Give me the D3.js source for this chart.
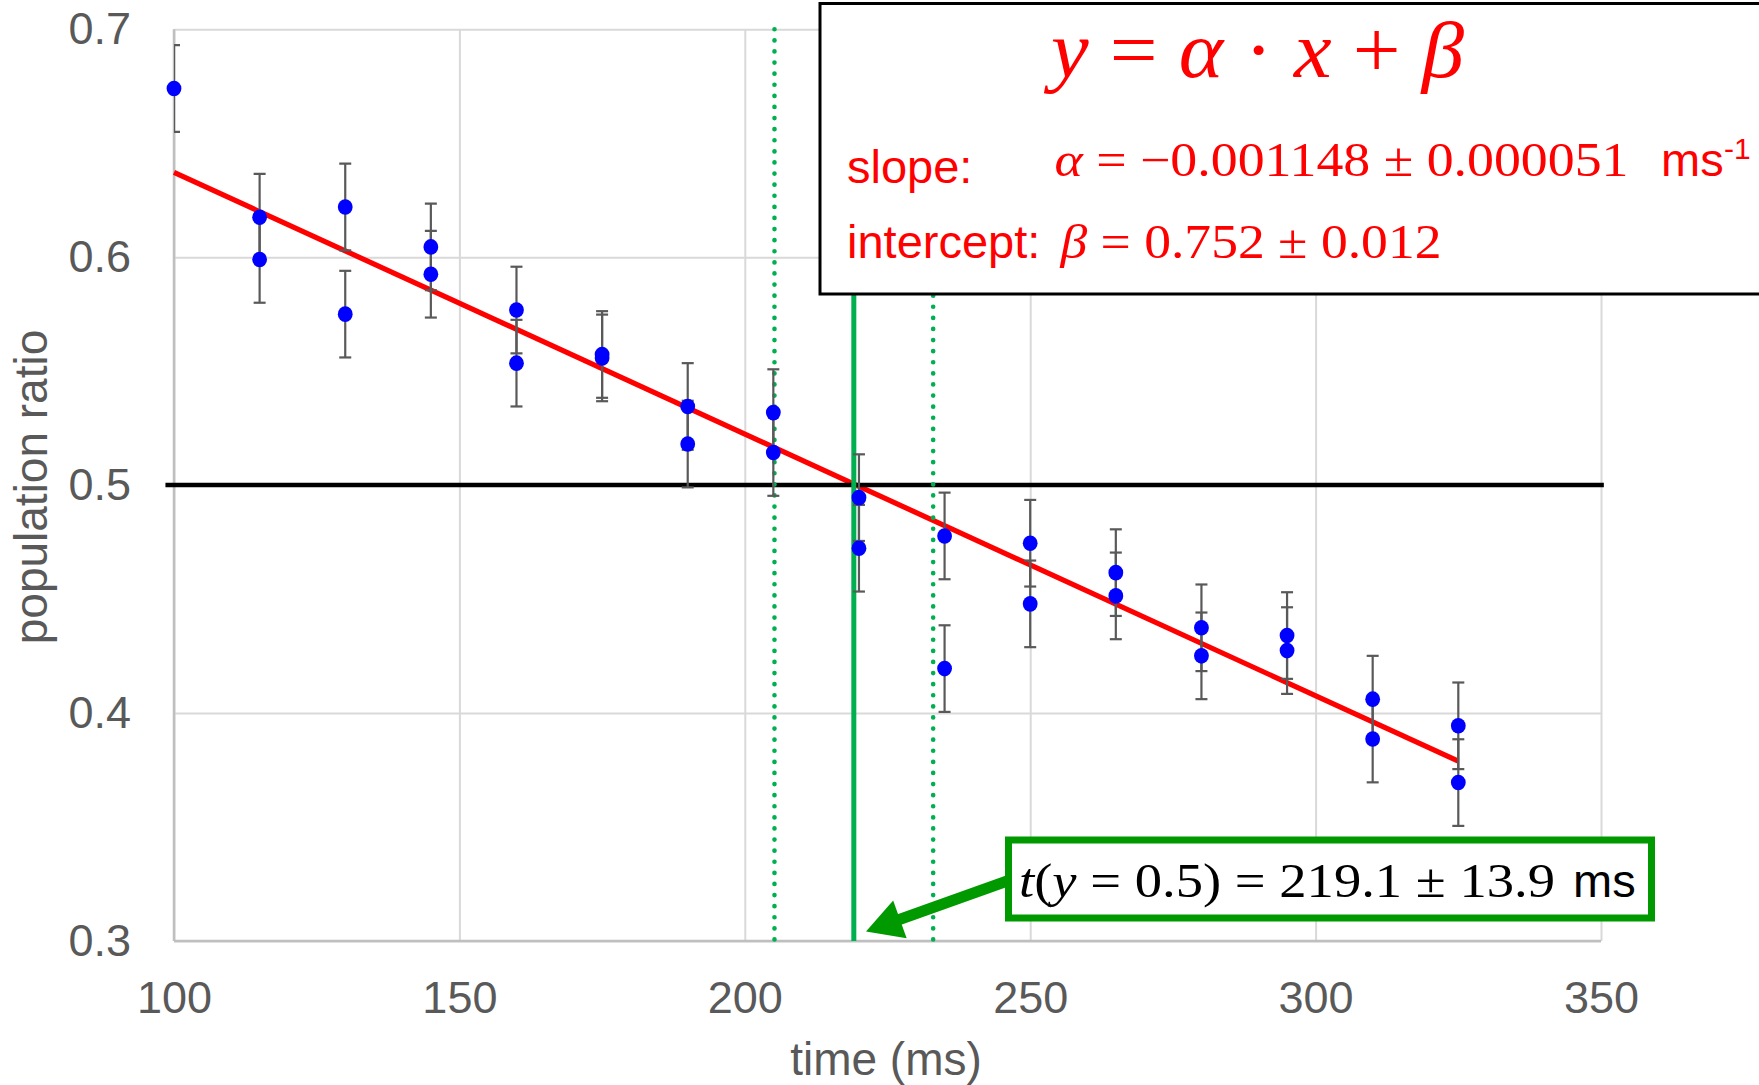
<!DOCTYPE html>
<html><head><meta charset="utf-8">
<script src="https://cdn.jsdelivr.net/npm/d3@7/dist/d3.min.js"></script>
<style>body{margin:0;background:#fff;overflow:hidden}</style>
</head><body>
<svg id="c" width="1759" height="1085"></svg>
<script>
// ---- data ----
const times  = [100,115,115,130,130,145,145,160,160,175,175,190,190,205,205,220,220,235,235,250,250,265,265,280,280,295,295,310,310,325,325];
const ratios = [0.674,0.6175,0.599,0.622,0.575,0.6045,0.5925,0.5768,0.5535,0.5573,0.5558,0.5345,0.518,0.5318,0.5143,0.4945,0.4723,0.4777,0.4195,0.4745,0.4479,0.4616,0.4514,0.4374,0.4251,0.434,0.4274,0.4061,0.3886,0.3944,0.3695];
const errors = [0.019,0.019,0.019,0.019,0.019,0.019,0.019,0.019,0.019,0.019,0.019,0.019,0.019,0.019,0.019,0.019,0.019,0.019,0.019,0.019,0.019,0.019,0.019,0.019,0.019,0.019,0.019,0.019,0.019,0.019,0.019];
const xTicks = [100,150,200,250,300,350];
const yTicks = [0.3,0.4,0.5,0.6,0.7];
const fitSlope = -0.001148, fitIntercept = 0.752;
const fitRange = [100, 325];
const tHalf = 219.1, tHalfErr = 13.9;
const refLevel = 0.5;

const svg = d3.select("#c");
const L = 174, R = 1601, T = 29.2, B = 941;
const x = d3.scaleLinear().domain([100,350]).range([L,R]);
const y = d3.scaleLinear().domain([0.3,0.7]).range([B,T]);
const SANS = "'Liberation Sans', Arial, sans-serif";
const SERIF = "'Liberation Serif', 'Times New Roman', serif";

svg.append("defs").append("clipPath").attr("id","plot")
  .append("rect").attr("x",L).attr("y",T-20).attr("width",R-L).attr("height",B-T+40);

// grid + tick labels
const gy = svg.append("g").attr("transform",`translate(${L},0)`)
  .call(d3.axisLeft(y).tickValues(yTicks).tickSize(-(R-L)).tickPadding(43).tickFormat(d3.format(".1f")));
gy.select(".domain").remove();
gy.selectAll("line").attr("stroke","#d9d9d9").attr("stroke-width",2);
gy.selectAll("text").attr("font-family",SANS).attr("font-size",45).attr("fill","#595959");

const gx = svg.append("g").attr("transform",`translate(0,${B})`)
  .call(d3.axisBottom(x).tickValues(xTicks).tickSize(-(B-T)).tickPadding(40).tickFormat(d3.format("d")));
gx.select(".domain").remove();
gx.selectAll("line").attr("stroke","#d9d9d9").attr("stroke-width",2);
gx.selectAll("text").attr("font-family",SANS).attr("font-size",45).attr("fill","#595959");

// axis lines
svg.append("line").attr("x1",L).attr("x2",L).attr("y1",T).attr("y2",B).attr("stroke","#bfbfbf").attr("stroke-width",2.5);
svg.append("line").attr("x1",L).attr("x2",R).attr("y1",B).attr("y2",B).attr("stroke","#bfbfbf").attr("stroke-width",2.5);

// axis titles
svg.append("text").attr("x",886).attr("y",1075).attr("text-anchor","middle")
  .attr("font-family",SANS).attr("font-size",46).attr("fill","#595959").text("time (ms)");
svg.append("text").attr("transform","translate(47,487) rotate(-90)").attr("text-anchor","middle")
  .attr("font-family",SANS).attr("font-size",46).attr("fill","#595959").text("population ratio");

// fit line
svg.append("line").attr("x1",x(fitRange[0])).attr("y1",y(fitSlope*fitRange[0]+fitIntercept))
  .attr("x2",x(fitRange[1])).attr("y2",y(fitSlope*fitRange[1]+fitIntercept))
  .attr("stroke","#ff0000").attr("stroke-width",5.2);

// reference line 0.5
svg.append("line").attr("x1",x(98.5)).attr("x2",x(350.5)).attr("y1",y(refLevel)).attr("y2",y(refLevel))
  .attr("stroke","#000").attr("stroke-width",4.5);

// green vertical lines
[tHalf - tHalfErr, tHalf + tHalfErr].forEach(v => {
  svg.append("line").attr("x1",x(v)).attr("x2",x(v)).attr("y1",y(0.7)).attr("y2",y(0.3))
    .attr("stroke","#00b050").attr("stroke-width",4.6).attr("stroke-linecap","round")
    .attr("stroke-dasharray","0.1 11");
});
svg.append("line").attr("x1",x(tHalf)).attr("x2",x(tHalf)).attr("y1",y(0.7)).attr("y2",y(0.3))
  .attr("stroke","#00b050").attr("stroke-width",5);

// error bars
const pts = times.map((t,i)=>({t, v:ratios[i], e:errors[i]}));
const eb = svg.append("g").attr("clip-path","url(#plot)").attr("stroke","#595959").attr("stroke-width",2.2);
pts.forEach(p=>{
  const cx = x(p.t);
  eb.append("line").attr("x1",cx).attr("x2",cx).attr("y1",y(p.v+p.e)).attr("y2",y(p.v-p.e));
  eb.append("line").attr("x1",cx-6).attr("x2",cx+6).attr("y1",y(p.v+p.e)).attr("y2",y(p.v+p.e));
  eb.append("line").attr("x1",cx-6).attr("x2",cx+6).attr("y1",y(p.v-p.e)).attr("y2",y(p.v-p.e));
});
// points
svg.append("g").selectAll("ellipse").data(pts).join("ellipse")
  .attr("cx",d=>x(d.t)).attr("cy",d=>y(d.v)).attr("rx",7.4).attr("ry",7.8).attr("fill","#0000ff");

// equation box
svg.append("rect").attr("x",820).attr("y",3.5).attr("width",1000).attr("height",290.5)
  .attr("fill","#fff").attr("stroke","#000").attr("stroke-width",3);

const eq = svg.append("text").attr("x",1051).attr("y",77).attr("font-family",SERIF).attr("font-size",80)
  .attr("fill","#ff0000").attr("textLength",413).attr("lengthAdjust","spacingAndGlyphs");
[["y",1],[" = ",0],["α",1],[" · ",0],["x",1],[" + ",0],["β",1]].forEach(([s,it])=>{
  eq.append("tspan").attr("font-style",it?"italic":"normal").text(s);
});

svg.append("text").attr("x",847).attr("y",183).attr("font-family",SANS).attr("font-size",47).attr("fill","#ff0000").text("slope:");
const l2 = svg.append("text").attr("x",1054.5).attr("y",176).attr("font-family",SERIF).attr("font-size",48)
  .attr("fill","#ff0000").attr("textLength",574).attr("lengthAdjust","spacingAndGlyphs");
l2.append("tspan").attr("font-style","italic").text("α");
l2.append("tspan").text(" = −0.001148 ± 0.000051");
svg.append("text").attr("x",1661).attr("y",176).attr("font-family",SANS).attr("font-size",47).attr("fill","#ff0000").text("ms");
svg.append("text").attr("x",1724).attr("y",159).attr("font-family",SANS).attr("font-size",30).attr("fill","#ff0000").text("-1");

svg.append("text").attr("x",847).attr("y",258).attr("font-family",SANS).attr("font-size",47).attr("fill","#ff0000").text("intercept:");
const l3 = svg.append("text").attr("x",1060.5).attr("y",258).attr("font-family",SERIF).attr("font-size",48)
  .attr("fill","#ff0000").attr("textLength",381).attr("lengthAdjust","spacingAndGlyphs");
l3.append("tspan").attr("font-style","italic").text("β");
l3.append("tspan").text(" = 0.752 ± 0.012");

// arrow
const tip = [866, 931.5], start = [1010, 880];
const dx = tip[0]-start[0], dy = tip[1]-start[1], len = Math.hypot(dx,dy);
const ux = dx/len, uy = dy/len, nx = -uy, ny = ux;
const headL = 36, headW = 20;
const base = [tip[0]-headL*ux, tip[1]-headL*uy];
svg.append("line").attr("x1",start[0]).attr("y1",start[1]).attr("x2",base[0]+2*ux).attr("y2",base[1]+2*uy)
  .attr("stroke","#009900").attr("stroke-width",11);
svg.append("polygon").attr("points",[tip,[base[0]+headW*nx,base[1]+headW*ny],[base[0]-headW*nx,base[1]-headW*ny]].map(p=>p.join(",")).join(" "))
  .attr("fill","#009900");

// result box
svg.append("rect").attr("x",1008.5).attr("y",840).attr("width",643).attr("height",78)
  .attr("fill","#fff").attr("stroke","#009900").attr("stroke-width",7);
const rt = svg.append("text").attr("x",1019).attr("y",897).attr("font-family",SERIF).attr("font-size",48)
  .attr("fill","#000").attr("textLength",536).attr("lengthAdjust","spacingAndGlyphs");
rt.append("tspan").attr("font-style","italic").text("t");
rt.append("tspan").text("(");
rt.append("tspan").attr("font-style","italic").text("y");
rt.append("tspan").text(` = ${refLevel}) = ${tHalf} ± ${tHalfErr}`);
svg.append("text").attr("x",1573).attr("y",897).attr("font-family",SANS).attr("font-size",47).attr("fill","#000").text("ms");
</script>
</body></html>
